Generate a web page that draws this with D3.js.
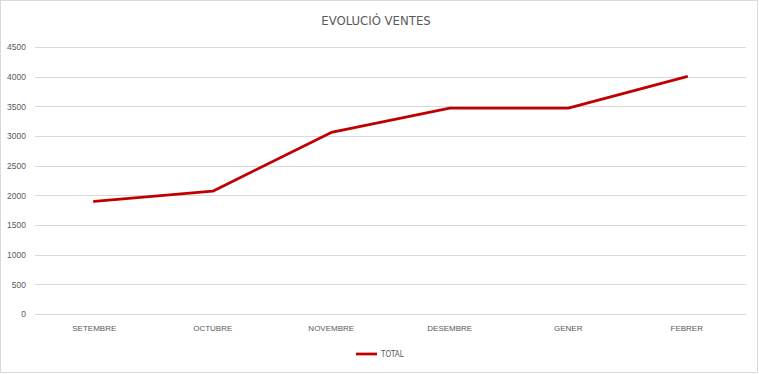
<!DOCTYPE html>
<html>
<head>
<meta charset="utf-8">
<script src="https://cdn.jsdelivr.net/npm/d3@7"></script>
<style>
  html, body { margin: 0; padding: 0; background: #fff; }
  svg { display: block; font-family: "Liberation Sans Narrow", "DejaVu Sans Condensed", "Liberation Sans", sans-serif; font-stretch: condensed; }
</style>
</head>
<body>
<div id="chart"></div>
<script>
// Data
const months = ["SETEMBRE", "OCTUBRE", "NOVEMBRE", "DESEMBRE", "GENER", "FEBRER"];
const totals = [1900, 2070, 3060, 3470, 3470, 4000];
const yTicks = [0, 500, 1000, 1500, 2000, 2500, 3000, 3500, 4000, 4500];
const seriesName = "TOTAL";

const W = 759, H = 374;
const margin = {top: 47, right: 13, bottom: 60, left: 35};
const width = 746 - margin.left;
const height = 314 - margin.top;

const svg = d3.select("#chart")
    .append("svg")
    .attr("width", W)
    .attr("height", H);

// Chart border
svg.append("rect")
    .attr("x", 0.5).attr("y", 0.5)
    .attr("width", 757).attr("height", 372)
    .attr("fill", "#fff")
    .attr("stroke", "#d9d9d9");

// Title
svg.append("text")
    .attr("x", 376)
    .attr("y", 25)
    .attr("text-anchor", "middle")
    .style("font-size", "13px")
    .style("fill", "#595959")
    .text("EVOLUCIÓ VENTES");

const g = svg.append("g")
    .attr("transform", `translate(${margin.left},${margin.top})`);

const x = d3.scaleBand().domain(months).range([0, width]);
const y = d3.scaleLinear().domain([0, 4500]).range([height, 0]);

// Gridlines
g.append("g").selectAll("line")
    .data(yTicks)
    .enter().append("line")
    .attr("x1", 0).attr("x2", width)
    .attr("y1", d => Math.round(y(d)) + 0.5)
    .attr("y2", d => Math.round(y(d)) + 0.5)
    .attr("stroke", "#d9d9d9")
    .attr("stroke-width", 1);

// Y axis labels
const yAxis = g.append("g")
    .call(d3.axisLeft(y).tickValues(yTicks).tickFormat(d3.format("d")).tickSize(0).tickPadding(9));
yAxis.select(".domain").remove();
yAxis.selectAll("text")
    .style("font-family", "inherit")
    .style("font-size", "8.5px")
    .style("fill", "#595959");

// X axis labels
const xAxis = g.append("g")
    .attr("transform", `translate(0,${height})`)
    .call(d3.axisBottom(x).tickSize(0).tickPadding(11));
xAxis.select(".domain").remove();
xAxis.selectAll("text")
    .style("font-family", "inherit")
    .style("font-size", "8px")
    .style("fill", "#595959");

// Line
const line = d3.line()
    .x((d, i) => x(months[i]) + x.bandwidth() / 2)
    .y(d => y(d));

g.append("path")
    .datum(totals)
    .attr("d", line)
    .attr("fill", "none")
    .attr("stroke", "#c00000")
    .attr("stroke-width", 2.75)
    .attr("stroke-linejoin", "round")
    .attr("stroke-linecap", "round");

// Legend
const legend = svg.append("g").attr("transform", "translate(356,354)");
legend.append("line")
    .attr("x1", 0).attr("x2", 21)
    .attr("y1", 0).attr("y2", 0)
    .attr("stroke", "#c00000")
    .attr("stroke-width", 2.75);
legend.append("text")
    .attr("x", 25)
    .attr("y", 0)
    .attr("dy", "0.35em")
    .style("font-size", "8px")
    .style("fill", "#595959")
    .text(seriesName);
</script>
</body>
</html>
